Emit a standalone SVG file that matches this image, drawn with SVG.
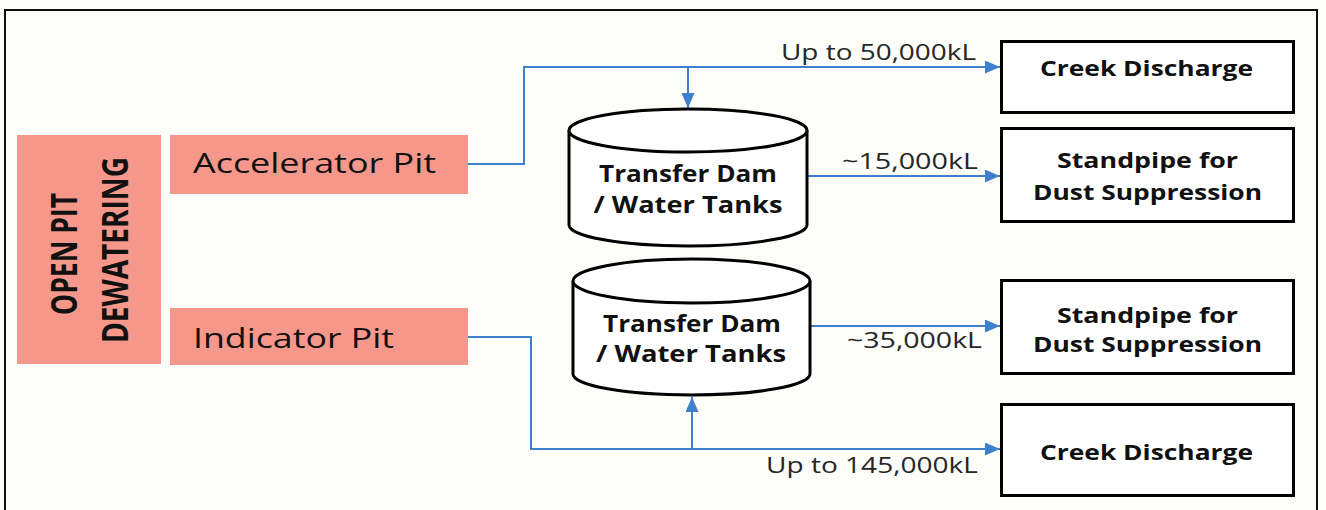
<svg xmlns="http://www.w3.org/2000/svg" width="1326" height="510" viewBox="0 0 1326 510">
<style>
text{font-family:"Open Sans","Liberation Sans",sans-serif;}
.pit{fill:#f5978a;}
.pt{font-size:28px;fill:#111;}
.ot{font-size:36px;font-weight:bold;fill:#111;}
.cyl{fill:#fff;stroke:#000;stroke-width:3;}
.ct{font-size:23px;font-weight:bold;fill:#111;text-anchor:middle;}
.box{fill:#fff;stroke:#000;stroke-width:3;}
.bt{font-size:22px;font-weight:bold;fill:#111;text-anchor:middle;}
.lb{font-size:21px;fill:#262626;}
.cn{fill:none;stroke:#3f80cc;stroke-width:2;}
</style>
<defs>
<marker id="ah" markerUnits="userSpaceOnUse" markerWidth="15" markerHeight="13" refX="15" refY="6.5" orient="auto">
<path d="M0,0 L15,6.5 L0,13 z" fill="#3f80cc"/>
</marker>
</defs>
<rect x="0" y="0" width="1326" height="510" fill="#fdfdf9"/>
<rect x="5" y="10" width="1312" height="510" fill="none" stroke="#111" stroke-width="2"/>

<g id="open-pit-dewatering">
<rect class="pit" x="17" y="135" width="144" height="229"/>
<text class="ot" transform="translate(77,254) rotate(-90)" text-anchor="middle" textLength="122" lengthAdjust="spacingAndGlyphs">OPEN PIT</text>
<text class="ot" transform="translate(128,250) rotate(-90)" text-anchor="middle" textLength="186" lengthAdjust="spacingAndGlyphs">DEWATERING</text>
</g>

<g id="accelerator-pit">
<rect class="pit" x="170" y="135" width="298" height="59"/>
<text class="pt" x="193" y="173" textLength="243" lengthAdjust="spacingAndGlyphs">Accelerator Pit</text>
</g>

<g id="indicator-pit">
<rect class="pit" x="170" y="308" width="298" height="57"/>
<text class="pt" x="193" y="348" textLength="201" lengthAdjust="spacingAndGlyphs">Indicator Pit</text>
</g>

<g id="connectors">
<path class="cn" d="M468,164 H524 V67 H1000" marker-end="url(#ah)"/>
<path class="cn" d="M688,67 V108" marker-end="url(#ah)"/>
<path class="cn" d="M807,176 H1000" marker-end="url(#ah)"/>
<path class="cn" d="M810,326 H1000" marker-end="url(#ah)"/>
<path class="cn" d="M468,337 H531 V449 H1000" marker-end="url(#ah)"/>
<path class="cn" d="M692,449 V397" marker-end="url(#ah)"/>
<text class="lb" x="781" y="60" textLength="195" lengthAdjust="spacingAndGlyphs">Up to 50,000kL</text>
<text class="lb" x="842" y="169" textLength="136" lengthAdjust="spacingAndGlyphs">~15,000kL</text>
<text class="lb" x="847" y="348" textLength="135" lengthAdjust="spacingAndGlyphs">~35,000kL</text>
<text class="lb" x="766" y="473" textLength="212" lengthAdjust="spacingAndGlyphs">Up to 145,000kL</text>
</g>

<g id="transfer-dam-1">
<path class="cyl" d="M569,130.5 V225 A119,21 0 0 0 807,225 V130.5"/>
<ellipse class="cyl" cx="688" cy="130.5" rx="119" ry="21.5"/>
<text class="ct" x="688" y="182" textLength="178" lengthAdjust="spacingAndGlyphs">Transfer Dam</text>
<text class="ct" x="688" y="213" textLength="189" lengthAdjust="spacingAndGlyphs">/ Water Tanks</text>
</g>

<g id="transfer-dam-2">
<path class="cyl" d="M573,281 V374 A118.5,21 0 0 0 810,374 V281"/>
<ellipse class="cyl" cx="691.5" cy="281" rx="118.5" ry="22"/>
<text class="ct" x="692" y="332" textLength="178" lengthAdjust="spacingAndGlyphs">Transfer Dam</text>
<text class="ct" x="691" y="362" textLength="190" lengthAdjust="spacingAndGlyphs">/ Water Tanks</text>
</g>

<g id="creek-discharge-1">
<rect class="box" x="1001.5" y="41.5" width="292" height="71"/>
<text class="bt" x="1146.5" y="76" textLength="213" lengthAdjust="spacingAndGlyphs">Creek Discharge</text>
</g>

<g id="standpipe-1">
<rect class="box" x="1001.5" y="128.5" width="292" height="93"/>
<text class="bt" x="1147.5" y="168" textLength="181" lengthAdjust="spacingAndGlyphs">Standpipe for</text>
<text class="bt" x="1147.5" y="200" textLength="229" lengthAdjust="spacingAndGlyphs">Dust Suppression</text>
</g>

<g id="standpipe-2">
<rect class="box" x="1001.5" y="280.5" width="292" height="93"/>
<text class="bt" x="1147.5" y="323" textLength="181" lengthAdjust="spacingAndGlyphs">Standpipe for</text>
<text class="bt" x="1147.5" y="352" textLength="229" lengthAdjust="spacingAndGlyphs">Dust Suppression</text>
</g>

<g id="creek-discharge-2">
<rect class="box" x="1001.5" y="404.5" width="292" height="91"/>
<text class="bt" x="1146.5" y="460" textLength="213" lengthAdjust="spacingAndGlyphs">Creek Discharge</text>
</g>
</svg>
